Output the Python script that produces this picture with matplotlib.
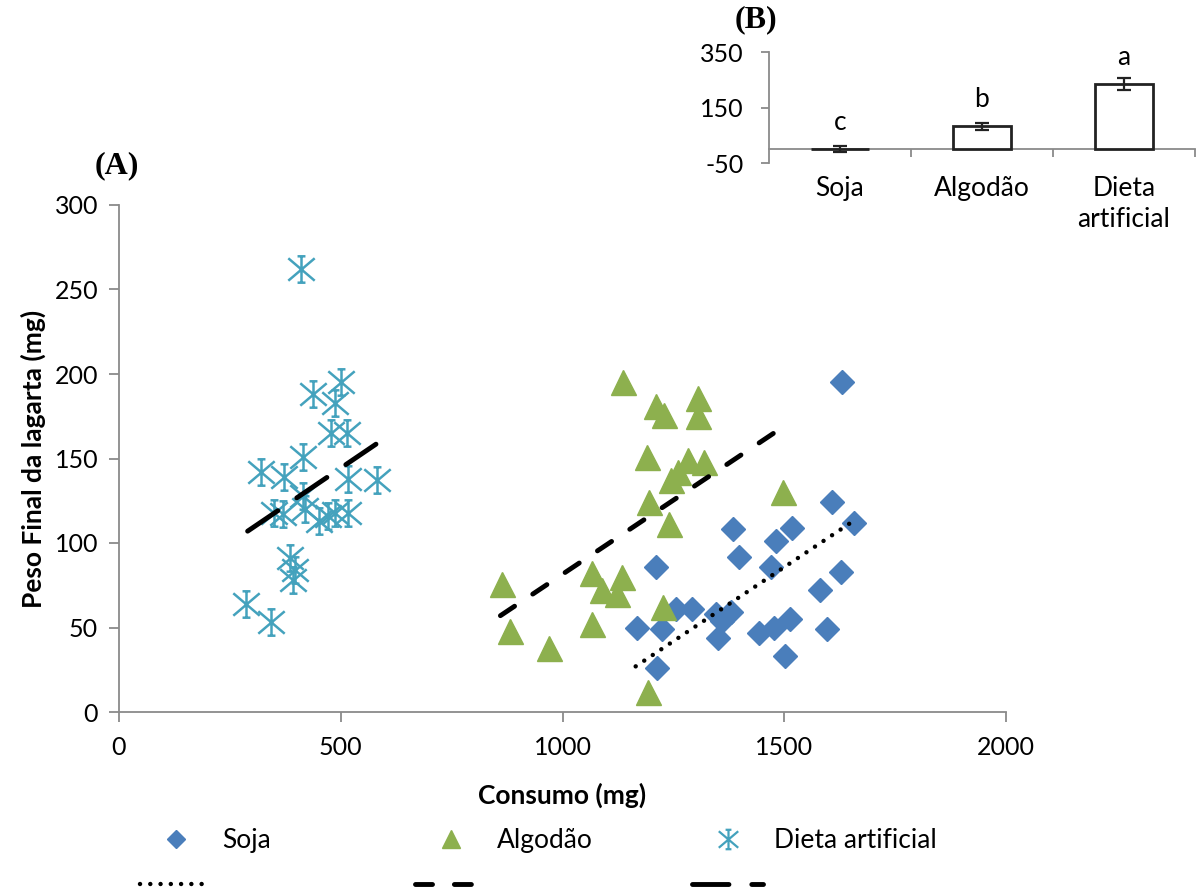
import matplotlib
matplotlib.use("Agg")
import matplotlib.pyplot as plt
from matplotlib.path import Path
from matplotlib.lines import Line2D
import numpy as np

plt.rcParams['font.family'] = ['Lato', 'DejaVu Sans']
plt.rcParams['axes.unicode_minus'] = False

# ---------------- data (main scatter) ----------------
soja_x = [1210, 1167, 1225, 1214, 1256, 1293, 1346, 1380, 1350, 1360, 1384, 1399,
          1482, 1469, 1444, 1478, 1512, 1501, 1630, 1608, 1658, 1518, 1629, 1581, 1597]
soja_y = [86, 50, 49, 26, 61, 61, 58, 59, 44, 54, 108, 92,
          101, 86, 47, 50, 55, 33, 195, 124, 112, 109, 83, 72, 49]

alg_x = [1137, 1210, 1229, 1305, 1305, 1190, 1244, 1260, 1282, 1319, 1195, 1240,
         1497, 864, 1067, 1135, 1090, 1124, 882, 1066, 969, 1192, 1227]
alg_y = [195, 181, 176, 186, 175, 151, 137, 142, 149, 148, 124, 111,
         130, 76, 82, 80, 72, 70, 48, 52, 38, 12, 62]

diet_x = [411, 500, 437, 486, 479, 513, 415, 320, 373, 517, 581, 415,
          350, 370, 419, 452, 486, 517, 471, 385, 396, 392, 287, 343]
diet_y = [262, 195, 188, 183, 165, 165, 151, 142, 139, 138, 137, 128,
          118, 117, 120, 113, 118, 118, 116, 91, 84, 78, 64, 53]

# trend lines (end points)
soja_trend_x = [1165, 1650]
soja_trend_y = [27, 112]
alg_trend_x = [860, 1482]
alg_trend_y = [57, 166]
diet_trend_x = [290, 588]
diet_trend_y = [107, 160]

# ---------------- data (inset bar chart) ----------------
bar_cats = ['Soja', 'Algodão', 'Dieta\nartificial']
bar_vals = [2, 83, 236]
bar_errs = [12, 12, 23]
bar_letters = ['c', 'b', 'a']
letter_y = [98, 180, 332]

# ---------------- styles ----------------
c_soja = '#4A7EBB'
c_alg = '#8DB04E'
c_diet = '#44A2BD'
gray = '#8a8a8a'
FS = 19

# custom star marker (Excel-like asterisk with serifs)
verts = [(0, -1), (0, 1),
         (-1.0, -0.85), (1.0, 0.85),
         (-1.0, 0.85), (1.0, -0.85),
         (-0.3, 1), (0.3, 1),
         (-0.3, -1), (0.3, -1)]
codes = [Path.MOVETO, Path.LINETO] * 5
star = Path(verts, codes)

fig = plt.figure(figsize=(11.98, 8.91), dpi=100)

# main axes
ax = fig.add_axes([119 / 1198, 1 - 712 / 891, (1006 - 119) / 1198, 507 / 891])
ax.set_xlim(0, 2000)
ax.set_ylim(0, 300)
ax.set_xticks([0, 500, 1000, 1500, 2000])
ax.set_yticks([0, 50, 100, 150, 200, 250, 300])
for s in ['top', 'right']:
    ax.spines[s].set_visible(False)
for s in ['left', 'bottom']:
    ax.spines[s].set_color(gray)
    ax.spines[s].set_linewidth(1.3)
ax.tick_params(axis='both', direction='out', length=7, width=1.3, color=gray,
               labelsize=18)
ax.tick_params(axis='x', pad=10)
ax.tick_params(axis='y', pad=8)

ax.plot(soja_x, soja_y, linestyle='none', marker='D', ms=12, color=c_soja,
        mec=c_soja, zorder=3, clip_on=False)
ax.plot(alg_x, alg_y, linestyle='none', marker='^', ms=18, color=c_alg,
        mec=c_alg, zorder=3, clip_on=False)
ax.plot(diet_x, diet_y, linestyle='none', marker=star, ms=19, color=c_diet,
        mew=1.8, zorder=3, clip_on=False)

ln_soja, = ax.plot(soja_trend_x, soja_trend_y, color='black', lw=3.2,
                   linestyle=(0, (0.01, 2.3)), dash_capstyle='round', zorder=4)
ln_alg, = ax.plot(alg_trend_x, alg_trend_y, color='black', lw=3.5,
                  linestyle=(0, (3.5, 4.5)), dash_capstyle='round', zorder=4)
ln_diet, = ax.plot(diet_trend_x, diet_trend_y, color='black', lw=3.5,
                   linestyle=(0, (7.5, 4.7)), dash_capstyle='round', zorder=4)

ax.set_xlabel('Consumo (mg)', fontsize=FS, fontweight='bold', labelpad=17)
ax.set_ylabel('Peso Final da lagarta (mg)', fontsize=FS, fontweight='bold',
              labelpad=6)

fig.text(95 / 1198, 1 - 166 / 891, '(A)', family='Liberation Serif',
         fontweight='bold', fontsize=23, va='center', ha='left')

# legends: three columns
h_soja = Line2D([], [], linestyle='none', marker='D', ms=9, color=c_soja)
h_alg = Line2D([], [], linestyle='none', marker='^', ms=13, color=c_alg)
h_diet = Line2D([], [], linestyle='none', marker=star, ms=14, color=c_diet, mew=1.6)
cols = [(h_soja, 'Soja', ln_soja, 140), (h_alg, 'Algodão', ln_alg, 415),
        (h_diet, 'Dieta artificial', ln_diet, 692)]
for hm, lab, hl, x0 in cols:
    leg = fig.legend([hm, hl], [lab, ' '], loc='upper left',
                     bbox_to_anchor=(x0 / 1198, 1 - 828 / 891),
                     frameon=False, fontsize=FS, handlelength=2.7,
                     handletextpad=0.42, borderpad=0, borderaxespad=0,
                     labelspacing=0.75, numpoints=1)

# inset bar chart
ax2 = fig.add_axes([769 / 1198, 1 - 163.3 / 891, (1195 - 769) / 1198, 111 / 891])
xpos = np.arange(1, len(bar_cats) + 1)
ax2.bar(xpos, bar_vals, width=0.41, color='white', edgecolor='#222222',
        linewidth=2.0, yerr=bar_errs, capsize=5,
        error_kw=dict(ecolor='#222222', elinewidth=1.6, capthick=1.6), zorder=3)
ax2.set_xlim(0.5, 3.5)
ax2.set_ylim(-50, 350)
ax2.set_yticks([-50, 150, 350])
for s in ['top', 'right']:
    ax2.spines[s].set_visible(False)
ax2.spines['left'].set_color(gray)
ax2.spines['left'].set_linewidth(1.3)
ax2.spines['bottom'].set_position(('data', 0))
ax2.spines['bottom'].set_color(gray)
ax2.spines['bottom'].set_linewidth(1.3)
ax2.tick_params(axis='y', direction='out', length=6, width=1.3, color=gray,
                labelsize=18, pad=12)
ax2.set_xticks(xpos)
ax2.set_xticklabels(bar_cats, fontsize=FS, linespacing=1.3, va='top')
ax2.tick_params(axis='x', which='major', length=0, pad=19)
ax2.set_xticks([1.5, 2.5, 3.5], minor=True)
ax2.tick_params(axis='x', which='minor', direction='out', length=6, width=1.3,
                color=gray)
for xp, lt, ly in zip(xpos, bar_letters, letter_y):
    ax2.text(xp, ly, lt, ha='center', va='center', fontsize=FS)

fig.text(735 / 1198, 1 - 20 / 891, '(B)', family='Liberation Serif',
         fontweight='bold', fontsize=23, va='center', ha='left')

fig.savefig('out.png', dpi=100)
